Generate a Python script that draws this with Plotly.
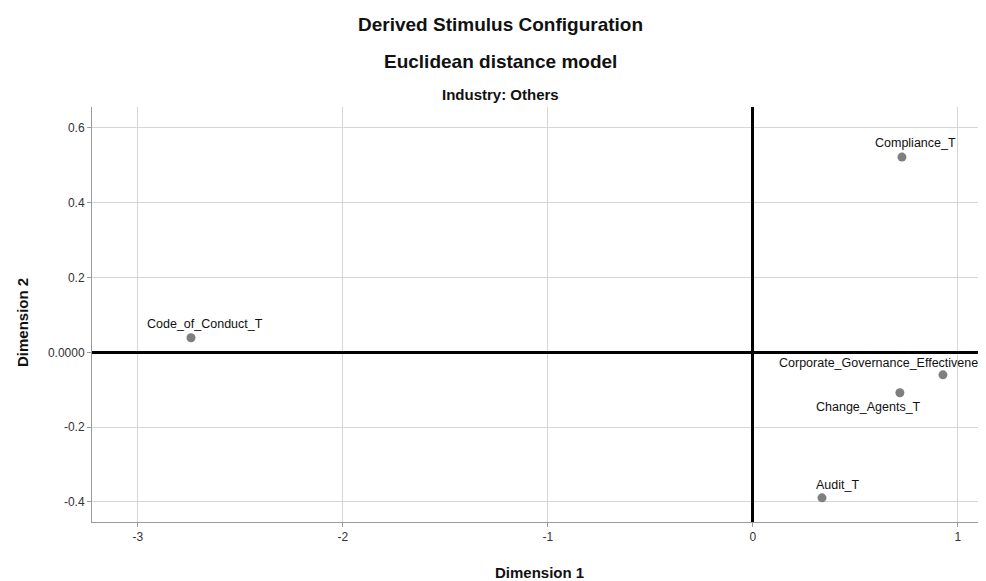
import plotly.graph_objects as go

# ---- data ----
stimuli = ["Compliance_T", "Code_of_Conduct_T", "Corporate_Governance_Effectiveness_T",
           "Change_Agents_T", "Audit_T"]
dim1 = [0.727, -2.741, 0.927, 0.717, 0.337]
dim2 = [0.522, 0.039, -0.060, -0.108, -0.389]

x_ticks = [-3, -2, -1, 0, 1]
x_ticktext = ["-3", "-2", "-1", "0", "1"]
y_ticks = [0.6, 0.4, 0.2, 0.0, -0.2, -0.4]
y_ticktext = ["0.6", "0.4", "0.2", "0.0000", "-0.2", "-0.4"]

title_main = "Derived Stimulus Configuration"
title_sub = "Euclidean distance model"
panel_title = "Industry: Others"
x_title = "Dimension 1"
y_title = "Dimension 2"

# ---- style: label placement offsets (pixels) ----
label_style = {
    "Compliance_T": dict(xanchor="center", xshift=14, yshift=14),
    "Code_of_Conduct_T": dict(xanchor="center", xshift=14, yshift=14),
    "Corporate_Governance_Effectiveness_T": dict(xanchor="left", xshift=-166, yshift=12),
    "Change_Agents_T": dict(xanchor="center", xshift=-31, yshift=-14),
    "Audit_T": dict(xanchor="center", xshift=15, yshift=13),
}

FONT = "Liberation Sans, Arial, sans-serif"

# page body has an 8px margin, so the figure is sized to fill the rest
W, H = 978, 573
ML, MT, MB, MR = 84, 99, 59, 0
plot_w = W - ML - MR
plot_h = H - MT - MB

fig = go.Figure()
fig.add_trace(go.Scatter(
    x=dim1, y=dim2, mode="markers",
    marker=dict(color="#7f7f7f", size=9),
    hovertext=stimuli, showlegend=False, cliponaxis=False,
))

annotations = []
for name, xv, yv in zip(stimuli, dim1, dim2):
    st = label_style[name]
    annotations.append(dict(
        x=xv, y=yv, xref="x", yref="y", text=name, showarrow=False,
        xanchor=st["xanchor"], yanchor="middle",
        xshift=st["xshift"], yshift=st["yshift"],
        font=dict(family=FONT, size=12.5, color="#111111"),
    ))

title_x = (500 - 92) / plot_w
for txt, size, ys in [(title_main, 19, 83), (title_sub, 19, 46), (panel_title, 15, 13)]:
    annotations.append(dict(
        x=title_x, y=1, xref="paper", yref="paper", text=f"<b>{txt}</b>",
        showarrow=False, xanchor="center", yanchor="middle", yshift=ys,
        font=dict(family=FONT, size=size, color="#111111"),
    ))

annotations.append(dict(
    x=0.5, y=0, xref="paper", yref="paper", text=f"<b>{x_title}</b>",
    showarrow=False, xanchor="center", yanchor="middle", yshift=-50,
    font=dict(family=FONT, size=15, color="#111111"),
))
annotations.append(dict(
    x=0, y=(522 - 323) / plot_h, xref="paper", yref="paper", text=f"<b>{y_title}</b>",
    showarrow=False, xanchor="center", yanchor="middle", xshift=-70, textangle=-90,
    font=dict(family=FONT, size=15, color="#111111"),
))

fig.update_layout(
    width=W, height=H,
    margin=dict(l=ML, r=MR, t=MT, b=MB),
    paper_bgcolor="white", plot_bgcolor="white",
    font=dict(family=FONT, size=12, color="#333333"),
    annotations=annotations,
    xaxis=dict(
        range=[-3.224, 1.137], tickvals=x_ticks, ticktext=x_ticktext,
        showgrid=True, gridcolor="#d6d6d6", gridwidth=1,
        zeroline=True, zerolinecolor="black", zerolinewidth=3,
        showline=True, linecolor="#9a9a9a", linewidth=1,
        ticks="outside", ticklen=4, tickcolor="#9a9a9a",
        tickfont=dict(family=FONT, size=12, color="#333333"),
    ),
    yaxis=dict(
        range=[-0.4535, 0.656], tickvals=y_ticks, ticktext=y_ticktext,
        showgrid=True, gridcolor="#d6d6d6", gridwidth=1,
        zeroline=True, zerolinecolor="black", zerolinewidth=3,
        showline=True, linecolor="#9a9a9a", linewidth=1,
        ticks="outside", ticklen=4, tickcolor="#9a9a9a",
        tickfont=dict(family=FONT, size=12, color="#333333"),
    ),
)

fig.write_html("out.html")
